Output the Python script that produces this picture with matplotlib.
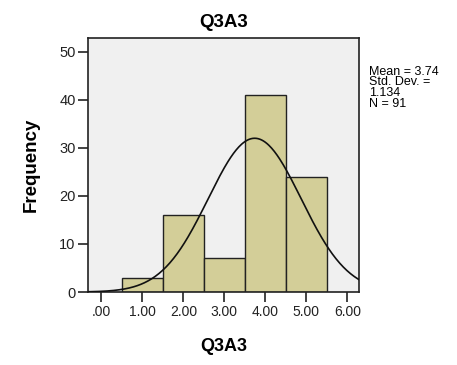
import numpy as np
import matplotlib
matplotlib.use('Agg')
from matplotlib import pyplot as plt

plt.rcParams['font.family'] = ['Liberation Sans', 'DejaVu Sans']

# histogram data
bin_centers = [1, 2, 3, 4, 5]
counts = [3, 16, 7, 41, 24]
x_ticks = [0, 1, 2, 3, 4, 5, 6]
x_ticklabels = ['.00', '1.00', '2.00', '3.00', '4.00', '5.00', '6.00']
y_ticks = [0, 10, 20, 30, 40, 50]

# summary stats printed beside the chart
mean = 3.74
std = 1.134
n = 91

fig = plt.figure(figsize=(4.57, 3.65), dpi=100)
ax = fig.add_axes([0.193, 0.2, 0.593, 0.696])
ax.set_facecolor('#f0f0f0')

ax.bar(bin_centers, counts, width=1.0, color='#d3ce98', edgecolor='#222222', linewidth=1.0, zorder=2)

# normal curve scaled to counts
xs = np.linspace(-0.32, 6.3, 300)
ys = n * 1.0 / (std * np.sqrt(2 * np.pi)) * np.exp(-0.5 * ((xs - mean) / std) ** 2)
ax.plot(xs, ys, color='#111111', linewidth=1.2, zorder=3)

ax.set_xlim(-0.32, 6.29)
ax.set_ylim(0, 52.9)
ax.set_xticks(x_ticks)
ax.set_xticklabels(x_ticklabels, fontsize=10)
ax.set_yticks(y_ticks)
ax.set_yticklabels([str(v) for v in y_ticks], fontsize=10.5)
ax.tick_params(axis='both', direction='out', length=7, width=1.2, pad=2, colors='#222222')
for s in ax.spines.values():
    s.set_linewidth(1.2)
    s.set_color('#222222')

ax.set_title('Q3A3', fontsize=13.5, fontweight='bold', pad=8)
ax.set_xlabel('Q3A3', fontsize=13, fontweight='bold', labelpad=14)
ax.set_ylabel('Frequency', fontsize=13.5, fontweight='bold', labelpad=14)

fig.text(0.808, 0.82, 'Mean = %.2f\nStd. Dev. =\n%.3f\nN = %d' % (mean, std, n),
         fontsize=9, va='top', ha='left', linespacing=0.85)

fig.savefig('out.png', dpi=100)
